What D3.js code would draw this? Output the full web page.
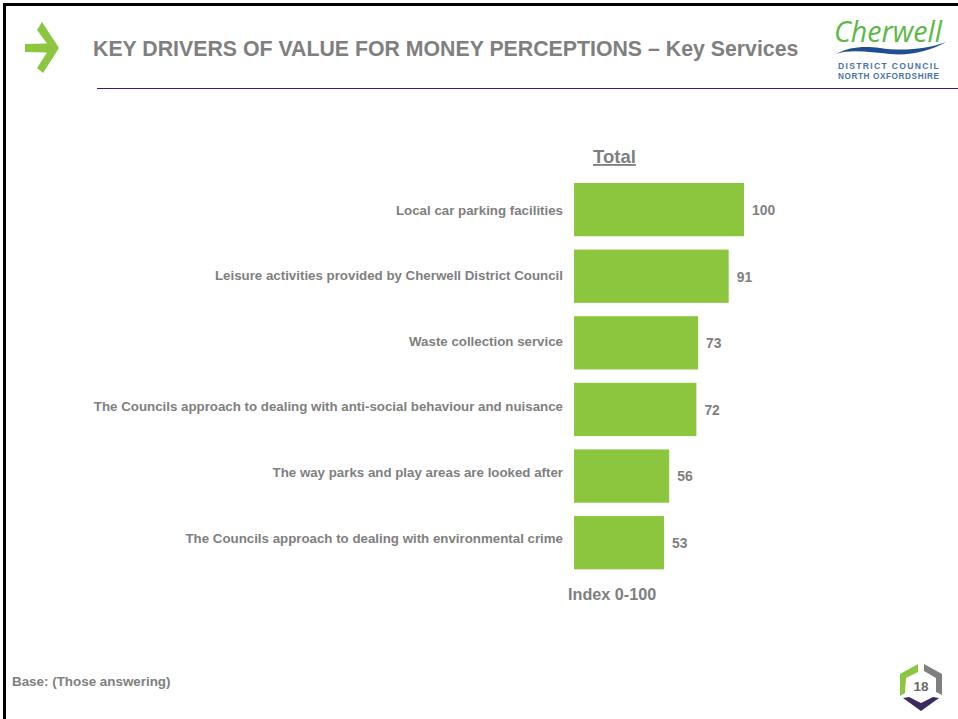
<!DOCTYPE html>
<html>
<head>
<meta charset="utf-8">
<script src="https://cdn.jsdelivr.net/npm/d3@7"></script>
<style>
  html, body { margin: 0; padding: 0; background: #fff; }
  svg { display: block; }
  text { font-family: "Liberation Sans", Arial, sans-serif; font-weight: bold; fill: #7f7f7f; }
</style>
</head>
<body>
<script>
var categories = [
  "Local car parking facilities",
  "Leisure activities provided by Cherwell District Council",
  "Waste collection service",
  "The Councils approach to dealing with anti-social behaviour and nuisance",
  "The way parks and play areas are looked after",
  "The Councils approach to dealing with environmental crime"
];
var values = [100, 91, 73, 72, 56, 53];

var w = 958;
var h = 719;
var green = "#8cc63f";
var grey = "#7f7f7f";
var purple = "#3b2a5e";

var svg = d3.select("body")
  .append("svg")
  .attr("width", w)
  .attr("height", h);

svg.append("rect").attr("width", w).attr("height", h).attr("fill", "#fff");

// slide frame, only top and left show
svg.append("path")
  .attr("d", "M4.5,719V4.5H958")
  .attr("fill", "none")
  .attr("stroke", "#000")
  .attr("stroke-width", 3);

// header arrow
svg.append("path")
  .attr("d", "M42,22 L59,48 L43,73 L37,68 L47,52.5 L25,52 L25,44 L47,43.5 L37,30 Z")
  .attr("fill", green);

svg.append("text")
  .attr("x", 93)
  .attr("y", 56)
  .attr("font-size", 21.3)
  .text("KEY DRIVERS OF VALUE FOR MONEY PERCEPTIONS – Key Services");

svg.append("line")
  .attr("x1", 97).attr("x2", 958)
  .attr("y1", 88.5).attr("y2", 88.5)
  .attr("stroke", "#3c1a6e")
  .attr("stroke-width", 1);

// logo
svg.append("text")
  .attr("x", 834)
  .attr("y", 42)
  .attr("font-size", 28.6)
  .attr("font-style", "italic")
  .style("font-family", "'Open Sans', sans-serif")
  .style("font-weight", 400)
  .style("fill", "#5bb946")
  .text("Cherwell");
svg.append("path")
  .attr("d", "M836,54 C850,47 862,46 880,48 C900,51 925,50 946,42 C930,51 910,56 890,54 C870,52 850,49 836,54 Z")
  .attr("fill", "#1f4e91");
svg.append("text")
  .attr("x", 838).attr("y", 69)
  .attr("font-size", 8.6)
  .attr("letter-spacing", 1.3)
  .style("fill", "#4a74a8")
  .text("DISTRICT COUNCIL");
svg.append("text")
  .attr("x", 838).attr("y", 78.5)
  .attr("font-size", 8.2)
  .attr("letter-spacing", 0.6)
  .style("fill", "#4a74a8")
  .text("NORTH OXFORDSHIRE");

// chart
var x = d3.scaleLinear().domain([0, 100]).range([574, 744]);
var y = d3.scaleBand()
  .domain(categories)
  .range([176.3, 576])
  .paddingInner(0.2)
  .paddingOuter(0.1);
// the text rows do not quite follow the bars in the original
var labelY = d3.scalePoint().domain(categories).range([210, 538]);
var valueY = d3.scalePoint().domain(categories).range([210, 543]);

svg.selectAll("rect.bar")
  .data(values)
  .enter()
  .append("rect")
  .attr("class", "bar")
  .attr("x", x(0))
  .attr("y", function(d, i) { return y(categories[i]); })
  .attr("width", function(d) { return x(d) - x(0); })
  .attr("height", y.bandwidth())
  .attr("fill", green);

svg.selectAll("text.cat")
  .data(categories)
  .enter()
  .append("text")
  .attr("class", "cat")
  .attr("x", 563)
  .attr("y", function(d) { return labelY(d) + 4.5; })
  .attr("text-anchor", "end")
  .attr("font-size", 13.3)
  .text(function(d) { return d; });

svg.selectAll("text.val")
  .data(values)
  .enter()
  .append("text")
  .attr("class", "val")
  .attr("x", function(d) { return x(d) + 8; })
  .attr("y", function(d, i) { return valueY(categories[i]) + 5; })
  .attr("font-size", 13.9)
  .text(function(d) { return d; });

svg.append("text")
  .attr("x", 593).attr("y", 163)
  .attr("font-size", 18.5)
  .attr("text-decoration", "underline")
  .text("Total");

svg.append("text")
  .attr("x", 568).attr("y", 600)
  .attr("font-size", 16.2)
  .text("Index 0-100");

svg.append("text")
  .attr("x", 12).attr("y", 686)
  .attr("font-size", 13.4)
  .text("Base: (Those answering)");

// page number badge
svg.append("path")
  .attr("d", "M918,664 L918,672 L906,678 L905,693 L900,696 L900,674 Z")
  .attr("fill", green);
svg.append("path")
  .attr("d", "M924,664 L942,674 L942,695 L936,692 L936,678 L924,671 Z")
  .attr("fill", grey);
svg.append("path")
  .attr("d", "M903,698 L909,697 L921,703 L933,697 L939,698 L921,711 Z")
  .attr("fill", purple);
svg.append("text")
  .attr("x", 921).attr("y", 691)
  .attr("text-anchor", "middle")
  .attr("font-size", 13.5)
  .style("fill", "#6a6a6a")
  .text("18");
</script>
</body>
</html>
